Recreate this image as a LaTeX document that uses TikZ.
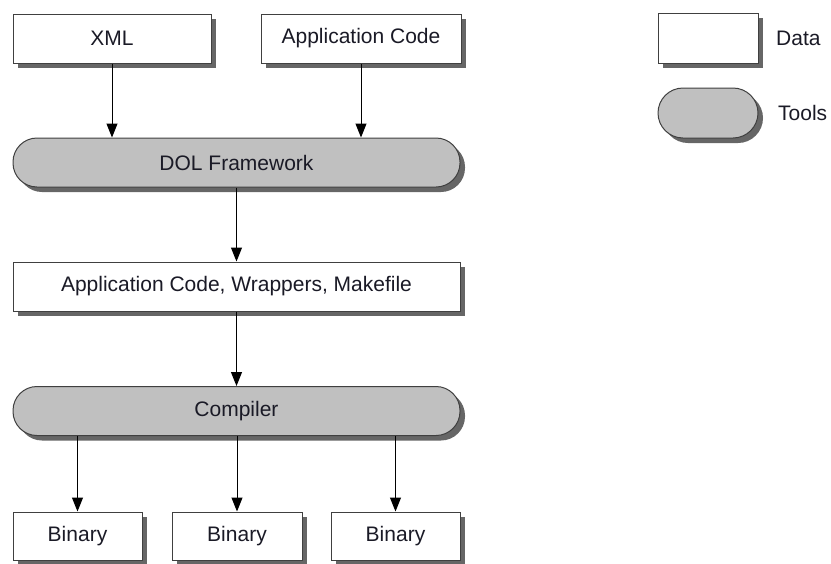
\documentclass[tikz,border=0pt]{standalone}
\usepackage{fontspec}
\setmainfont{Liberation Sans}
\usetikzlibrary{arrows.meta,shadows}
\definecolor{toolgray}{HTML}{C0C0C0}
\definecolor{edgegray}{HTML}{404040}
\definecolor{shadowgray}{HTML}{555555}
\definecolor{textdark}{HTML}{1A1A26}
\tikzset{
  base/.style={draw=edgegray, line width=1pt, inner sep=0pt, text=textdark,
    font=\fontsize{21}{25}\selectfont, minimum height=49pt,
    drop shadow={shadow xshift=5pt, shadow yshift=-5pt, fill=shadowgray, opacity=0.9}},
  databox/.style={base, fill=white, rectangle},
  toolbox/.style={base, fill=toolgray, rectangle, rounded corners=24pt},
  arr/.style={-{Triangle[width=11pt,length=14pt]}, line width=1pt, draw=black},
  legendtext/.style={anchor=west, text=textdark, font=\fontsize{21}{25}\selectfont, inner sep=0pt}
}
\begin{document}
\begin{tikzpicture}[x=1pt,y=-1pt]
  \useasboundingbox (0,0) rectangle (831,563);

  % input data
  \node[databox, minimum width=198pt] (xml) at (112,38.5) {XML};
  \node[databox, minimum width=200pt] (appcode) at (361,38.5) {Application Code};

  % framework
  \node[toolbox, minimum width=447pt] (dol) at (236.5,162.5) {DOL Framework};

  % generated sources
  \node[databox, minimum width=447pt] (gen) at (236.5,286.5) {Application Code, Wrappers, Makefile};

  % compiler
  \node[toolbox, minimum width=447pt] (cc) at (236.5,411) {Compiler};

  % outputs
  \node[databox, minimum width=129pt, minimum height=48pt] (bin1) at (77.5,536) {Binary};
  \node[databox, minimum width=130pt, minimum height=48pt] (bin2) at (237,536) {Binary};
  \node[databox, minimum width=129pt, minimum height=48pt] (bin3) at (395.5,536) {Binary};

  % legend
  \node[databox, minimum width=100pt, minimum height=50pt] (ldata) at (708,38) {};
  \node[legendtext] (ldatatext) at (776,38) {Data};
  \node[toolbox, minimum width=100pt, minimum height=50pt, rounded corners=25pt] (ltool) at (708,113) {};
  \node[legendtext] (ltooltext) at (778,113) {Tools};

  % connectors
  \draw[arr] (xml.south) -- (xml.south |- dol.north);
  \draw[arr] (appcode.south) -- (appcode.south |- dol.north);
  \draw[arr] (dol.south) -- (gen.north);
  \draw[arr] (gen.south) -- (cc.north);
  \draw[arr] (cc.south -| bin1.north) -- (bin1.north);
  \draw[arr] (cc.south -| bin2.north) -- (bin2.north);
  \draw[arr] (cc.south -| bin3.north) -- (bin3.north);
\end{tikzpicture}
\end{document}
